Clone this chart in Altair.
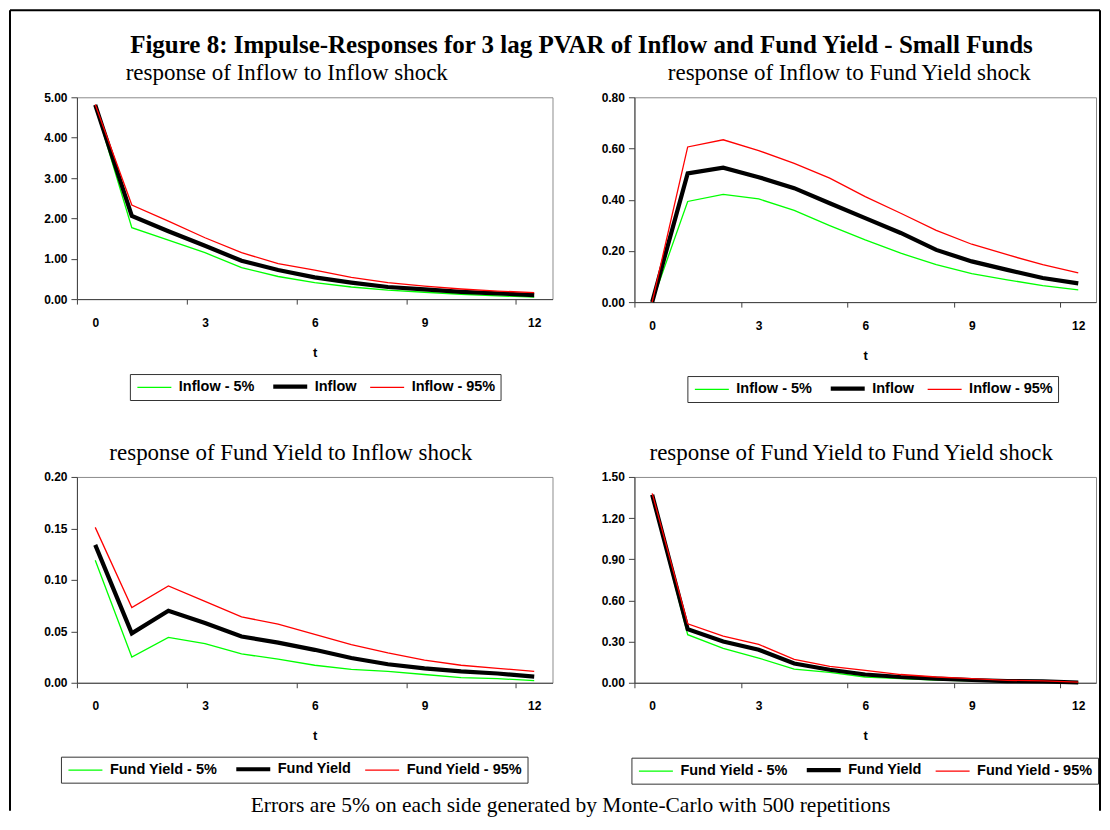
import altair as alt
import pandas as pd

T = list(range(13))

# response of Inflow to Inflow shock
tl_lo = [4.79, 1.77, 1.46, 1.15, 0.78, 0.56, 0.41, 0.30, 0.22, 0.17, 0.12, 0.08, 0.05]
tl_mid = [4.81, 2.06, 1.68, 1.32, 0.95, 0.72, 0.54, 0.41, 0.30, 0.24, 0.18, 0.14, 0.10]
tl_hi = [4.82, 2.33, 1.93, 1.52, 1.15, 0.88, 0.72, 0.54, 0.41, 0.32, 0.25, 0.20, 0.16]

# response of Inflow to Fund Yield shock
tr_lo = [0.0, 0.393, 0.421, 0.403, 0.358, 0.299, 0.243, 0.191, 0.146, 0.111, 0.087, 0.064, 0.048]
tr_mid = [0.0, 0.503, 0.525, 0.488, 0.445, 0.386, 0.328, 0.270, 0.204, 0.159, 0.126, 0.094, 0.073]
tr_hi = [0.0, 0.606, 0.634, 0.592, 0.542, 0.484, 0.412, 0.347, 0.280, 0.226, 0.185, 0.146, 0.114]

# response of Fund Yield to Inflow shock
bl_lo = [0.119, 0.025, 0.044, 0.038, 0.028, 0.023, 0.017, 0.013, 0.011, 0.008, 0.005, 0.004, 0.002]
bl_mid = [0.134, 0.048, 0.070, 0.058, 0.045, 0.039, 0.032, 0.024, 0.018, 0.014, 0.011, 0.009, 0.006]
bl_hi = [0.151, 0.073, 0.094, 0.079, 0.064, 0.057, 0.047, 0.037, 0.029, 0.022, 0.017, 0.014, 0.011]

# response of Fund Yield to Fund Yield shock
br_lo = [1.36, 0.35, 0.25, 0.18, 0.10, 0.075, 0.042, 0.030, 0.020, 0.014, 0.007, 0.004, 0.001]
br_mid = [1.37, 0.39, 0.30, 0.24, 0.14, 0.095, 0.060, 0.042, 0.030, 0.020, 0.012, 0.010, 0.002]
br_hi = [1.38, 0.43, 0.34, 0.28, 0.17, 0.120, 0.090, 0.060, 0.042, 0.030, 0.018, 0.013, 0.004]

INFLOW_NAMES = ["Inflow - 5%", "Inflow", "Inflow - 95%"]
FY_NAMES = ["Fund Yield - 5%", "Fund Yield", "Fund Yield - 95%"]
X_TICKS = [0, 3, 6, 9, 12]
Y_TL = [0, 1, 2, 3, 4, 5]
Y_TR = [0, 0.2, 0.4, 0.6, 0.8]
Y_BL = [0, 0.05, 0.10, 0.15, 0.20]
Y_BR = [0, 0.3, 0.6, 0.9, 1.2, 1.5]

MAIN_TITLE = "Figure 8: Impulse-Responses for 3 lag PVAR of Inflow and Fund Yield - Small Funds"
TITLES = ["response of Inflow to Inflow shock",
          "response of Inflow to Fund Yield shock",
          "response of Fund Yield to Inflow shock",
          "response of Fund Yield to Fund Yield shock"]
FOOTNOTE = "Errors are 5% on each side generated by Monte-Carlo with 500 repetitions"

COLORS = ["#00FF00", "#000000", "#FF0000"]
LINE_W = [1.3, 4.2, 1.3]
SERIF = "Liberation Serif"
SANS = "Liberation Sans"


def make_df(names, lo, mid, hi):
    rows = []
    for name, vals in zip(names, [lo, mid, hi]):
        for t, v in zip(T, vals):
            rows.append({"t": t, "value": v, "series": name})
    return pd.DataFrame(rows)


def text_layer(txt, x, y, size, weight="normal"):
    return alt.Chart(pd.DataFrame({"txt": [txt]})).mark_text(
        font=SERIF, fontSize=size, fontWeight=weight, align="center",
        baseline="alphabetic", color="black"
    ).encode(text="txt:N", x=alt.value(x), y=alt.value(y))


def lines(df, names, yvals, w, h, lx, ly):
    unit = w / 13.0
    leg = alt.Legend(title=None, orient="none", legendX=lx, legendY=ly,
                     direction="horizontal", columns=3)
    return alt.Chart(df).mark_line().encode(
        x=alt.X("t:Q", scale=alt.Scale(domain=[-0.5, 12.5], nice=False, zero=False),
                axis=alt.Axis(values=X_TICKS, tickOffset=-unit / 2, labelOffset=unit / 2,
                              title="t", format="d", labelFlush=False, labelOverlap=False,
                              tickSize=5, labelPadding=13, titlePadding=18)),
        y=alt.Y("value:Q", scale=alt.Scale(domain=[yvals[0], yvals[-1]], nice=False, zero=True),
                axis=alt.Axis(values=yvals, format=".2f", title=None, tickSize=6,
                              labelPadding=4, labelFlush=False, labelOverlap=False)),
        color=alt.Color("series:N", scale=alt.Scale(domain=names, range=COLORS), legend=leg),
        strokeWidth=alt.StrokeWidth("series:N",
                                    scale=alt.Scale(type="ordinal", domain=names, range=LINE_W),
                                    legend=leg),
    ).properties(width=w, height=h)


one = pd.DataFrame({"k": [0]})

# top-left panel also carries the figure frame and the main title
tl_lines = lines(make_df(INFLOW_NAMES, tl_lo, tl_mid, tl_hi), INFLOW_NAMES, Y_TL, 476, 202, 53, 277)
frame_l = alt.Chart(one).mark_rule(color="black", strokeWidth=2).encode(
    x=alt.value(-67), y=alt.value(-87), y2=alt.value(714))
frame_t = alt.Chart(one).mark_rule(color="black", strokeWidth=2).encode(
    x=alt.value(-67), x2=alt.value(1024), y=alt.value(-87))
frame_r = alt.Chart(one).mark_rule(color="black", strokeWidth=2).encode(
    x=alt.value(1024), y=alt.value(-87), y2=alt.value(714))
tl = alt.layer(frame_l, frame_t, frame_r,
               text_layer(MAIN_TITLE, 505, -44, 25, "bold"),
               text_layer(TITLES[0], 210, -17, 23),
               tl_lines)

tr = alt.layer(
    text_layer(TITLES[1], 215, -17, 23),
    lines(make_df(INFLOW_NAMES, tr_lo, tr_mid, tr_hi), INFLOW_NAMES, Y_TR, 462, 205, 53, 279))

bl = alt.layer(
    text_layer(TITLES[2], 214, -17, 23),
    text_layer(FOOTNOTE, 494, 335, 21.5),
    lines(make_df(FY_NAMES, bl_lo, bl_mid, bl_hi), FY_NAMES, Y_BL, 476, 206, -16, 280))

br = alt.layer(
    text_layer(TITLES[3], 217, -17, 23),
    lines(make_df(FY_NAMES, br_lo, br_mid, br_hi), FY_NAMES, Y_BR, 462, 206, -3, 281))

chart = alt.concat(
    tl, tr, bl, br, columns=2, spacing={"row": 175, "column": 82}, bounds="flush"
).resolve_scale(
    color="independent", strokeWidth="independent"
).resolve_legend(
    color="independent", strokeWidth="independent"
).properties(
    padding=0, background="white"
).configure_view(
    stroke="#8c8c8c", strokeWidth=1
).configure_axis(
    grid=False, domainColor="#404040", domainWidth=1, tickColor="#404040", tickWidth=1,
    labelFont=SANS, labelFontSize=12, labelFontWeight="bold", labelColor="black",
    titleFont=SANS, titleFontSize=13, titleFontWeight="bold", titleColor="black"
).configure_legend(
    labelFont=SANS, labelFontSize=14.5, labelFontWeight="bold", labelColor="black",
    symbolType="M-1,0H5.8", symbolSize=100, labelOffset=29, columnPadding=10,
    padding=5, strokeColor="#333333", fillColor="white", cornerRadius=0
)

chart.save("out.html", embed_options={"renderer": "svg", "actions": False})
